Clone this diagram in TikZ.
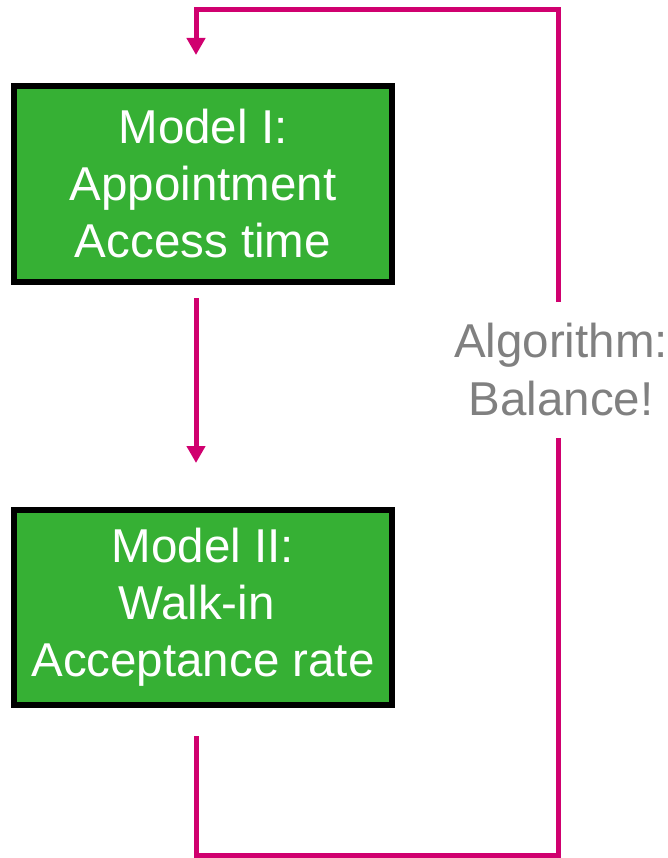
\documentclass[tikz,border=0pt]{standalone}
\usepackage{fontspec}
\setmainfont{Liberation Sans}
\usetikzlibrary{arrows.meta}
\definecolor{loopPink}{RGB}{208,0,111}
\definecolor{boxGreen}{RGB}{54,176,52}
\definecolor{algGray}{RGB}{128,128,128}
\begin{document}
\begin{tikzpicture}[x=1pt,y=-1pt,
  modelbox/.style={draw=black, line width=6pt, fill=boxGreen, text=white,
    minimum width=378pt, inner sep=0pt, align=center,
    font=\fontsize{47.5}{57}\selectfont},
  link/.style={draw=loopPink, line width=5pt, line join=miter},
  tipped/.style={link, -{Triangle[width=18pt,length=17pt]}}]
\useasboundingbox (0,0) rectangle (667,858);
\node[modelbox, minimum height=196pt] (m1) at (203,184) {Model I:\\Appointment\\Access time};
\node[modelbox, minimum height=195pt] (m2) at (203,607.5) {Model II:\\Walk-in\hbox to 13pt{\hfil}\\Acceptance rate};
\node[text=algGray, align=center, font=\fontsize{47.5}{58}\selectfont] (alg) at (561,370) {Algorithm:\\Balance!};
\coordinate (a1) at (196,298);
\coordinate (a2) at (196,463);
\coordinate (b0) at (196,736);
\coordinate (b1) at (196,855);
\coordinate (b2) at (558,855);
\coordinate (b3) at (558,438);
\coordinate (t0) at (558,302);
\coordinate (t1) at (558,10);
\coordinate (t2) at (196,10);
\coordinate (t3) at (196,55);
\draw[tipped] (a1) -- (a2);
\draw[link] (b0) -- (b1) -- (b2) -- (b3);
\draw[tipped] (t0) -- (t1) -- (t2) -- (t3);
\end{tikzpicture}
\end{document}
